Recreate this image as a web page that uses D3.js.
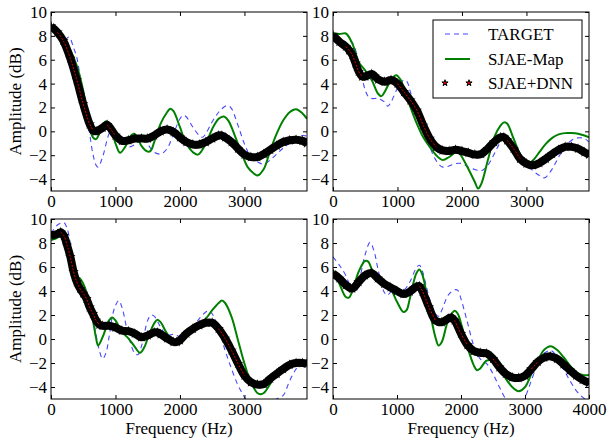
<!DOCTYPE html>
<html>
<head>
	<title></title>
	<style>
		body { margin: 0; background: #fff; }
		text { font-family: "Liberation Serif", "DejaVu Serif", serif; }
	</style>
</head>
<body>
	<svg id="container" width="609" height="441"></svg>
</body>
<script src="https://d3js.org/d3.v7.min.js"></script>
<script>
	// [frequency (Hz), amplitude (dB)]
	let tlTarget = [[0,8.5],[100,8.0],[200,7.6],[280,7.9],[350,7.0],[400,6.2],[450,4.6],[500,2.9],[550,1.5],[600,-0.2],[650,-1.9],[700,-2.85],[730,-3.0],[800,-2.15],[900,-0.2],[950,0.2],[1000,0.1],[1100,-0.75],[1200,-1.3],[1300,-1.1],[1400,-0.6],[1450,-0.55],[1500,-1.05],[1600,-1.75],[1700,-1.9],[1800,-1.45],[1900,-0.2],[2000,1.05],[2050,1.35],[2100,1.2],[2200,0.35],[2300,-0.35],[2350,-0.5],[2400,-0.2],[2500,0.8],[2600,1.6],[2700,2.1],[2750,2.15],[2800,1.9],[2900,0.5],[3000,-1.05],[3100,-2.15],[3200,-2.55],[3300,-2.75],[3400,-2.4],[3500,-1.9],[3600,-1.4],[3700,-1.0],[3800,-0.6],[3900,-0.35],[3970,-0.4]]
	let tlMap = [[0,8.8],[100,8.2],[200,7.6],[300,6.8],[400,5.5],[500,3.4],[550,1.8],[600,0.4],[650,-0.5],[700,-0.65],[800,0.5],[850,0.85],[900,0.6],[1000,-1.0],[1070,-1.8],[1150,-1.3],[1250,-0.3],[1290,-0.2],[1350,-0.6],[1400,-1.2],[1500,-1.7],[1550,-1.6],[1600,-0.9],[1700,0.65],[1800,1.6],[1850,1.9],[1900,1.7],[2000,0.35],[2100,-1.05],[2200,-1.75],[2280,-1.95],[2400,-1.05],[2500,0.2],[2600,1.05],[2680,1.25],[2750,0.9],[2850,-0.35],[2950,-1.75],[3050,-3.0],[3150,-3.55],[3200,-3.7],[3300,-3.15],[3400,-1.6],[3500,-0.2],[3600,0.9],[3700,1.6],[3800,1.85],[3900,1.5],[3970,1.05]]
	let tlDnn = [[0,8.8],[100,8.3],[190,7.6],[300,6.1],[400,4.3],[500,2.3],[600,0.6],[650,0.1],[700,0.0],[800,0.3],[870,0.55],[1000,-0.35],[1100,-0.8],[1200,-0.75],[1300,-0.6],[1400,-0.6],[1500,-0.6],[1600,-0.35],[1700,0.0],[1800,0.15],[1900,-0.05],[2000,-0.5],[2100,-0.9],[2200,-1.1],[2300,-1.1],[2400,-0.9],[2500,-0.6],[2600,-0.35],[2650,-0.35],[2700,-0.5],[2800,-0.9],[2900,-1.45],[3000,-1.95],[3100,-2.15],[3200,-2.15],[3300,-1.9],[3400,-1.55],[3500,-1.2],[3600,-0.9],[3700,-0.75],[3800,-0.7],[3900,-0.8],[3970,-1.0]]

	let trTarget = [[0,7.6],[100,7.35],[200,7.5],[280,7.55],[350,6.8],[400,5.7],[450,4.55],[500,3.45],[550,2.9],[600,2.75],[700,2.75],[800,2.45],[850,2.1],[900,2.45],[1000,3.6],[1100,4.3],[1150,4.15],[1200,3.3],[1300,1.75],[1400,0.1],[1500,-1.3],[1600,-2.45],[1700,-3.0],[1800,-2.9],[1900,-2.7],[2000,-2.7],[2100,-3.0],[2200,-3.2],[2300,-3.3],[2400,-2.85],[2500,-1.9],[2600,-0.9],[2700,-0.45],[2800,-1.05],[2900,-2.0],[3000,-2.7],[3100,-3.3],[3200,-3.7],[3270,-3.9],[3300,-3.85],[3400,-3.15],[3500,-2.15],[3600,-1.3],[3700,-0.75],[3800,-0.55],[3900,-0.6],[3970,-0.9]]
	let trMap = [[0,8.25],[100,8.15],[200,8.2],[300,7.35],[400,5.8],[500,5.1],[600,4.3],[700,3.15],[750,2.95],[800,3.3],[900,4.3],[980,4.7],[1050,4.3],[1100,3.6],[1200,2.05],[1300,0.65],[1400,-0.5],[1500,-1.3],[1600,-2.0],[1700,-2.4],[1800,-2.15],[1900,-1.75],[1950,-1.75],[2000,-2.15],[2100,-3.15],[2200,-4.25],[2250,-4.8],[2300,-4.4],[2400,-2.45],[2500,-0.5],[2600,0.5],[2650,0.75],[2700,0.65],[2800,-0.6],[2900,-1.9],[3000,-2.6],[3050,-2.65],[3100,-2.45],[3200,-1.75],[3300,-1.05],[3400,-0.55],[3500,-0.25],[3600,-0.15],[3700,-0.15],[3800,-0.2],[3900,-0.35],[3970,-0.5]]
	let trDnn = [[0,8.05],[100,7.5],[200,7.1],[250,6.8],[300,6.4],[350,5.7],[400,5.0],[450,4.6],[500,4.6],[600,4.8],[650,4.6],[700,4.35],[800,4.15],[900,4.3],[1000,4.0],[1100,3.3],[1200,2.6],[1300,1.75],[1400,0.5],[1500,-0.6],[1600,-1.3],[1700,-1.6],[1800,-1.65],[1900,-1.55],[2000,-1.65],[2100,-1.8],[2200,-1.95],[2300,-1.9],[2400,-1.45],[2500,-0.9],[2600,-0.5],[2650,-0.5],[2700,-0.75],[2800,-1.45],[2900,-2.3],[3000,-2.7],[3100,-2.85],[3200,-2.65],[3300,-2.3],[3400,-1.9],[3500,-1.55],[3600,-1.3],[3700,-1.3],[3800,-1.45],[3900,-1.75],[3970,-1.95]]

	let blTarget = [[0,8.8],[100,9.5],[200,9.7],[250,9.2],[300,7.95],[350,6.4],[400,5.3],[450,4.6],[500,3.9],[550,3.35],[600,2.8],[650,1.85],[700,0.3],[750,-0.95],[800,-1.65],[850,-1.2],[900,0.15],[950,1.85],[1000,2.8],[1050,3.2],[1100,2.65],[1200,0.3],[1300,-1.2],[1350,-1.3],[1400,-0.65],[1500,1.55],[1550,2.0],[1600,1.9],[1700,1.0],[1800,0.3],[1900,0.4],[2000,0.2],[2100,0.45],[2200,1.0],[2300,1.7],[2400,2.25],[2450,2.35],[2500,2.1],[2600,0.85],[2700,-0.95],[2800,-2.5],[2900,-3.85],[3000,-4.85],[3100,-5.8],[3200,-6.2],[3300,-6.0],[3400,-5.5],[3500,-5.0],[3600,-4.7],[3700,-3.5],[3800,-2.5],[3900,-1.85],[3970,-1.8]]
	let blMap = [[0,8.25],[100,8.45],[150,8.8],[200,8.65],[250,7.95],[300,7.0],[350,5.9],[400,5.2],[450,5.05],[500,4.6],[550,3.9],[600,2.95],[650,1.55],[700,0.05],[730,-0.55],[800,0.15],[900,1.55],[950,1.8],[1000,1.55],[1100,0.6],[1200,0.05],[1300,-0.65],[1380,-1.15],[1450,-0.65],[1500,0.05],[1600,1.3],[1650,1.6],[1700,1.4],[1800,0.45],[1900,-0.1],[2000,0.05],[2100,0.6],[2200,1.0],[2300,1.3],[2400,1.7],[2500,2.4],[2600,3.0],[2650,3.2],[2700,3.0],[2800,1.85],[2900,-0.1],[3000,-2.05],[3100,-3.6],[3200,-4.5],[3250,-4.6],[3300,-4.5],[3400,-3.75],[3500,-2.9],[3600,-2.35],[3700,-1.9],[3800,-1.8],[3900,-1.85],[3970,-2.0]]
	let blDnn = [[0,8.65],[100,8.75],[150,8.9],[200,8.6],[250,7.8],[300,6.85],[350,5.6],[400,4.75],[450,4.2],[500,3.8],[550,3.35],[600,2.65],[650,2.1],[700,1.55],[750,1.2],[800,1.1],[900,1.1],[1000,0.95],[1100,0.7],[1200,0.65],[1300,0.45],[1400,0.15],[1500,0.3],[1600,0.55],[1650,0.55],[1700,0.4],[1800,0.05],[1900,-0.25],[1950,-0.25],[2000,-0.1],[2100,0.45],[2200,0.85],[2300,1.15],[2400,1.35],[2500,1.35],[2600,0.85],[2700,0.05],[2800,-0.95],[2900,-2.05],[3000,-3.05],[3100,-3.6],[3200,-3.8],[3300,-3.75],[3400,-3.3],[3500,-2.9],[3600,-2.5],[3700,-2.15],[3800,-2.0],[3900,-2.0],[3970,-2.05]]

	let brTarget = [[0,6.85],[100,6.15],[200,5.3],[300,4.05],[350,3.9],[400,4.6],[500,7.0],[580,8.05],[650,7.15],[700,5.9],[800,3.9],[850,3.65],[900,3.9],[1000,4.2],[1100,4.05],[1200,4.75],[1300,5.9],[1350,6.15],[1400,5.6],[1500,3.5],[1600,2.1],[1650,1.9],[1700,2.4],[1800,3.65],[1900,4.1],[1950,4.05],[2000,3.35],[2100,1.4],[2200,-0.55],[2300,-1.65],[2400,-2.05],[2500,-2.9],[2600,-4.0],[2700,-5.0],[2800,-5.5],[2900,-5.6],[3000,-4.85],[3100,-3.45],[3200,-2.05],[3300,-1.2],[3400,-0.95],[3500,-1.5],[3600,-2.5],[3700,-3.45],[3800,-4.3],[3900,-4.85],[4000,-5.2]]
	let brMap = [[0,5.75],[100,4.6],[200,3.5],[250,3.45],[300,3.95],[400,5.6],[500,6.5],[550,6.45],[600,5.9],[700,4.9],[800,4.75],[900,4.2],[1000,3.1],[1100,2.25],[1150,2.4],[1200,3.35],[1300,5.45],[1350,5.8],[1400,5.3],[1500,2.65],[1600,0.15],[1650,-0.55],[1700,-0.25],[1800,1.55],[1900,2.35],[1950,2.1],[2000,1.3],[2100,-0.65],[2200,-2.2],[2250,-2.6],[2300,-2.45],[2400,-1.8],[2500,-1.8],[2600,-2.35],[2700,-3.3],[2800,-4.0],[2900,-4.35],[3000,-4.0],[3100,-2.9],[3200,-1.8],[3300,-0.9],[3400,-0.6],[3500,-0.9],[3600,-1.5],[3700,-2.2],[3800,-2.75],[3900,-3.0],[4000,-3.0]]
	let brDnn = [[0,5.45],[100,5.05],[200,4.5],[300,4.2],[400,4.75],[500,5.3],[600,5.5],[700,5.05],[800,4.6],[900,4.3],[1000,4.0],[1100,3.75],[1200,3.95],[1300,4.35],[1350,4.4],[1400,3.95],[1500,2.65],[1600,1.55],[1700,1.4],[1800,1.7],[1850,1.8],[1900,1.55],[2000,0.45],[2100,-0.5],[2200,-1.0],[2300,-1.15],[2400,-1.2],[2500,-1.65],[2600,-2.35],[2700,-2.9],[2800,-3.2],[2900,-3.25],[3000,-3.05],[3100,-2.5],[3200,-1.9],[3300,-1.55],[3400,-1.45],[3500,-1.65],[3600,-2.1],[3700,-2.6],[3800,-3.05],[3900,-3.4],[4000,-3.65]]

	let yTicks = [-4, -2, 0, 2, 4, 6, 8, 10]
	let seriesNames = ["TARGET", "SJAE-Map", "SJAE+DNN"]

	let svg = d3.select("#container")
	let serif = "'Liberation Serif', 'DejaVu Serif', serif"
	let fontSize = 17
	let minus = s => String(s).replace("-", "\u2212")

	let panels = [
		{x: 51, y: 12, w: 256, h: 179, xmax: 3970, xTicks: [0,1000,2000,3000], data: [tlTarget, tlMap, tlDnn], yLabel: true, xLabel: false},
		{x: 333, y: 12, w: 256, h: 179, xmax: 3970, xTicks: [0,1000,2000,3000], data: [trTarget, trMap, trDnn], yLabel: false, xLabel: false, legend: true},
		{x: 51, y: 219, w: 256, h: 180, xmax: 3970, xTicks: [0,1000,2000,3000], data: [blTarget, blMap, blDnn], yLabel: true, xLabel: true},
		{x: 333, y: 219, w: 256, h: 180, xmax: 4000, xTicks: [0,1000,2000,3000,4000], data: [brTarget, brMap, brDnn], yLabel: false, xLabel: true}
	]

	let star = d3.symbol().type(d3.symbolStar).size(34)

	panels.forEach((p, i) => {
		let g = svg.append("g").attr("transform", `translate(${p.x},${p.y})`)
		let x = d3.scaleLinear().domain([0, p.xmax]).range([0, p.w])
		let y = d3.scaleLinear().domain([-5, 10]).range([p.h, 0])

		g.append("clipPath").attr("id", "clip" + i)
			.append("rect").attr("width", p.w).attr("height", p.h)

		let line = d3.line()
			.x(d => x(d[0]))
			.y(d => y(d[1]))
			.curve(d3.curveCatmullRom.alpha(0.5))

		let plot = g.append("g").attr("clip-path", `url(#clip${i})`)

		// TARGET
		plot.append("path")
			.attr("d", line(p.data[0]))
			.attr("fill", "none")
			.attr("stroke", "#4848ff")
			.attr("stroke-width", 1.1)
			.attr("stroke-dasharray", "5,4")

		// SJAE-Map
		plot.append("path")
			.attr("d", line(p.data[1]))
			.attr("fill", "none")
			.attr("stroke", "#008000")
			.attr("stroke-width", 2)

		// SJAE+DNN: dense black stars, red faces show only where the curve is steep
		let dnn = p.data[2]
		plot.append("path")
			.attr("d", line(dnn))
			.attr("fill", "none")
			.attr("stroke", "#000")
			.attr("stroke-width", 8)
			.attr("stroke-linejoin", "round")
		plot.selectAll("path.star")
			.data(dnn)
			.enter().append("path")
			.attr("class", "star")
			.attr("d", star)
			.attr("transform", d => `translate(${x(d[0])},${y(d[1])})`)
			.attr("fill", "#000")
		let slope = (a, b) => Math.abs((y(b[1]) - y(a[1])) / (x(b[0]) - x(a[0])))
		let steep = dnn.map((d, k) => {
			let s1 = k > 0 ? slope(dnn[k - 1], d) : 0
			let s2 = k < dnn.length - 1 ? slope(d, dnn[k + 1]) : 0
			return Math.max(s1, s2) > 1.1
		})
		plot.append("path")
			.attr("d", line.defined((d, k) => steep[k])(dnn))
			.attr("fill", "none")
			.attr("stroke", "#e00000")
			.attr("stroke-width", 1)
			.attr("stroke-dasharray", "2,1.5")
		line.defined(() => true)

		// frame
		g.append("rect")
			.attr("width", p.w).attr("height", p.h)
			.attr("fill", "none").attr("stroke", "#000").attr("stroke-width", 1)

		// ticks inside on all sides
		let fmt = d3.format("d")
		let ax = [
			d3.axisBottom(x).tickValues(p.xTicks).tickSize(-4).tickPadding(4).tickFormat(fmt),
			d3.axisTop(x).tickValues(p.xTicks).tickSize(-4).tickFormat(""),
			d3.axisLeft(y).tickValues(yTicks).tickSize(-4).tickPadding(4).tickFormat(minus),
			d3.axisRight(y).tickValues(yTicks).tickSize(-4).tickFormat("")
		]
		let tr = [`translate(0,${p.h})`, "", "", `translate(${p.w},0)`]
		ax.forEach((a, k) => {
			let gg = g.append("g").attr("transform", tr[k]).call(a)
			gg.attr("font-family", null).attr("font-size", null)
			gg.select(".domain").remove()
			gg.selectAll("line").attr("stroke", "#000")
			gg.selectAll("text")
				.style("font-family", serif)
				.style("font-size", fontSize + "px")
				.attr("fill", "#000")
		})

		if (p.yLabel) {
			svg.append("text")
				.attr("transform", `translate(21,${p.y + p.h / 2}) rotate(-90)`)
				.attr("text-anchor", "middle")
				.style("font-family", serif)
				.style("font-size", fontSize + "px")
				.text("Amplitude (dB)")
		}
		if (p.xLabel) {
			svg.append("text")
				.attr("x", p.x + p.w / 2)
				.attr("y", 434)
				.attr("text-anchor", "middle")
				.style("font-family", serif)
				.style("font-size", fontSize + "px")
				.text("Frequency (Hz)")
		}

		if (p.legend) {
			let lg = svg.append("g").attr("transform", "translate(433,20)")
			lg.append("rect")
				.attr("width", 149).attr("height", 78)
				.attr("fill", "#fff").attr("stroke", "#000").attr("stroke-width", 1)
			let rows = [14, 39, 63]
			lg.append("line").attr("x1", 12).attr("x2", 37).attr("y1", rows[0]).attr("y2", rows[0])
				.attr("stroke", "#4848ff").attr("stroke-width", 1.1).attr("stroke-dasharray", "5,4")
			lg.append("line").attr("x1", 12).attr("x2", 37).attr("y1", rows[1]).attr("y2", rows[1])
				.attr("stroke", "#008000").attr("stroke-width", 2)
			lg.selectAll("path.lstar")
				.data([12, 36])
				.enter().append("path")
				.attr("d", d3.symbol().type(d3.symbolStar).size(12))
				.attr("transform", d => `translate(${d},${rows[2]})`)
				.attr("fill", "#e00000").attr("stroke", "#000").attr("stroke-width", 1)
			lg.selectAll("text")
				.data(seriesNames)
				.enter().append("text")
				.attr("x", 55)
				.attr("y", (d, k) => rows[k] + 6)
				.style("font-family", serif)
				.style("font-size", fontSize + "px")
				.text(d => d)
		}
	})
</script>
</html>
